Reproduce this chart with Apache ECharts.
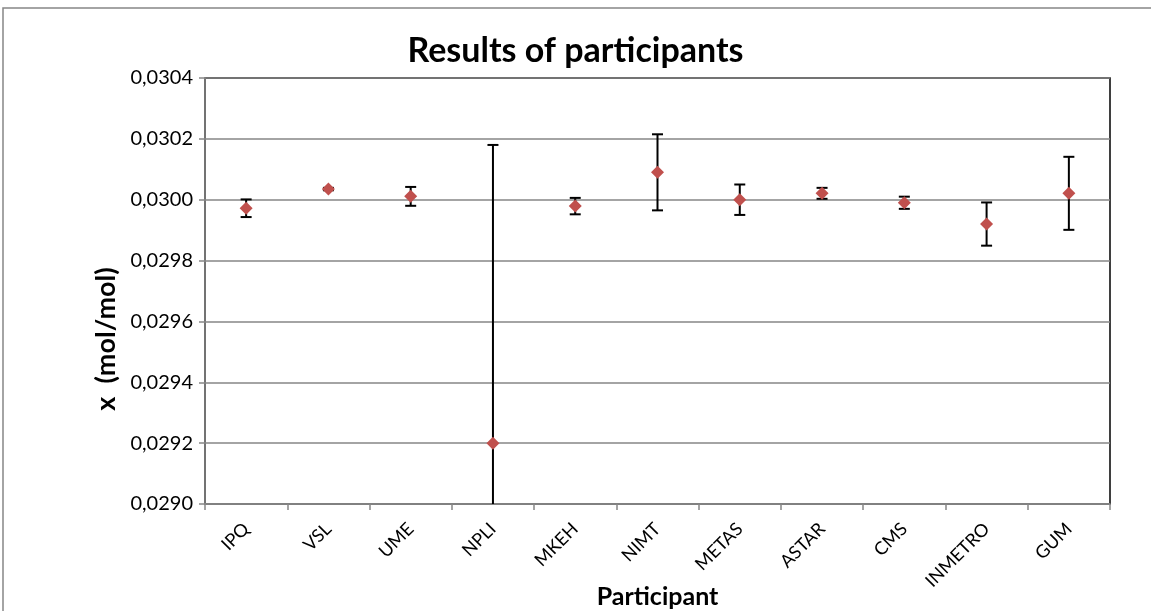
<!DOCTYPE html>
<html><head><meta charset="utf-8">
<script src="https://cdn.jsdelivr.net/npm/echarts@6/dist/echarts.min.js"></script>
<style>html,body{margin:0;padding:0;background:#fff}#c{width:1151px;height:611px}</style>
</head><body><div id="c"></div>
<script>
const participants = ['IPQ','VSL','UME','NPLI','MKEH','NIMT','METAS','ASTAR','CMS','INMETRO','GUM'];
const results = [0.029972, 0.030035, 0.030011, 0.029200, 0.029979, 0.030090, 0.030000, 0.030021, 0.029990, 0.029920, 0.030021];
const uncertainties = [0.000029, 0.000004, 0.000031, 0.000980, 0.000027, 0.000125, 0.000050, 0.000018, 0.000020, 0.000071, 0.000120];
const yTicks = {min: 0.0290, max: 0.0304, step: 0.0002};

const FONT = 'Lato';
const chart = echarts.init(document.getElementById('c'), null, {renderer: 'canvas'});
const errData = participants.map((p, i) => [i, results[i] - uncertainties[i], results[i] + uncertainties[i]]);
chart.setOption({
  animation: false,
  backgroundColor: '#fff',
  title: {text: 'Results of participants', left: 'center', top: 29,
    textStyle: {fontFamily: FONT, fontWeight: 'bold', fontSize: 34, color: '#000'}},
  grid: {left: 205, right: 41, top: 78, bottom: 107, containLabel: false, outerBoundsMode: 'none',
    show: true, borderColor: '#000', borderWidth: 1.5, backgroundColor: '#fff'},
  graphic: [
    {type: 'rect', shape: {x: 3, y: 8, width: 1160, height: 620}, style: {fill: null, stroke: '#868686', lineWidth: 1.5}, z: -10},
    {type: 'text', x: 106, y: 339, rotation: Math.PI / 2, style: {text: 'x  (mol/mol)', fontFamily: FONT, fontWeight: 'bold', fontSize: 27, fill: '#000', align: 'center', verticalAlign: 'middle'}}
  ],
  xAxis: {
    type: 'category', data: participants, boundaryGap: true,
    name: 'Participant', nameLocation: 'middle', nameGap: 80, nameMoveOverlap: false,
    nameTextStyle: {fontFamily: FONT, fontWeight: 'bold', fontSize: 25, color: '#000'},
    axisLine: {lineStyle: {color: '#868686', width: 1.5}},
    axisTick: {show: true, alignWithLabel: false, length: 6, lineStyle: {color: '#868686', width: 1.5}},
    axisLabel: {rotate: 45, fontFamily: FONT, fontSize: 18, color: '#000', margin: 22, interval: 0},
    splitLine: {show: false}
  },
  yAxis: {
    type: 'value', min: yTicks.min, max: yTicks.max, interval: yTicks.step,
    axisLine: {show: true, lineStyle: {color: '#868686', width: 1.5}},
    axisTick: {show: true, length: 6, lineStyle: {color: '#868686', width: 1.5}},
    axisLabel: {fontFamily: FONT, fontSize: 20, color: '#000', margin: 12,
      formatter: v => v.toFixed(4).replace('.', ',')},
    splitLine: {show: true, lineStyle: {color: '#868686', width: 1.5}}
  },
  series: [
    {
      type: 'custom', clip: true, z: 3,
      data: errData,
      renderItem: function (params, api) {
        const x = api.value(0);
        const lo = api.coord([x, api.value(1)]);
        const hi = api.coord([x, api.value(2)]);
        const hw = 5.5;
        const st = {stroke: '#000', lineWidth: 2, fill: null};
        return {type: 'group', children: [
          {type: 'line', shape: {x1: lo[0], y1: lo[1], x2: hi[0], y2: hi[1]}, style: st},
          {type: 'line', shape: {x1: lo[0] - hw, y1: lo[1], x2: lo[0] + hw, y2: lo[1]}, style: st},
          {type: 'line', shape: {x1: hi[0] - hw, y1: hi[1], x2: hi[0] + hw, y2: hi[1]}, style: st}
        ]};
      }
    },
    {
      type: 'scatter', z: 4, symbol: 'diamond', symbolSize: [13, 13],
      itemStyle: {color: '#C0504D', opacity: 1},
      data: results.map((v, i) => [i, v])
    }
  ]
});
</script></body></html>
